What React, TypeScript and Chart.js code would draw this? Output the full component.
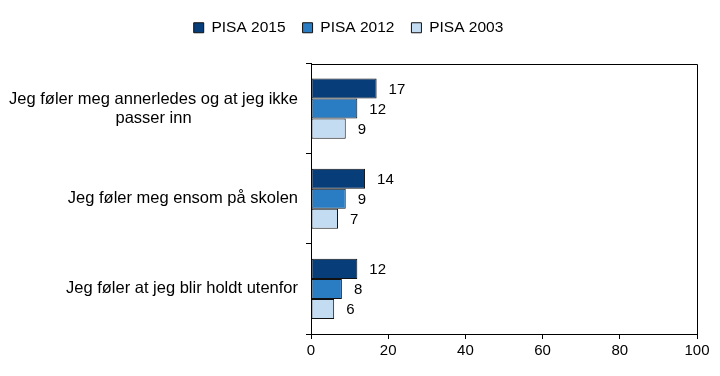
import React, { useEffect, useRef } from "react";
import { Chart, registerables } from "chart.js";

Chart.register(...registerables);

const categories: string[][] = [
  ["Jeg føler meg annerledes og at jeg ikke", "passer inn"],
  ["Jeg føler meg ensom på skolen"],
  ["Jeg føler at jeg blir holdt utenfor"],
];
const seriesNames = ["PISA 2015", "PISA 2012", "PISA 2003"];
const pisa2015 = [17, 14, 12];
const pisa2012 = [12, 9, 8];
const pisa2003 = [9, 7, 6];
const xTicks = [0, 20, 40, 60, 80, 100];

const colors = ["#073d78", "#2a7dc2", "#c4dcf1"];
const FONT = "'Liberation Sans', Arial, sans-serif";

const labelPlugin = {
  id: "valueLabels",
  afterDatasetsDraw(chart: any) {
    const ctx = chart.ctx;
    ctx.save();
    ctx.font = `15px ${FONT}`;
    ctx.fillStyle = "#000";
    ctx.textAlign = "left";
    ctx.textBaseline = "middle";
    chart.data.datasets.forEach((ds: any, i: number) => {
      const meta = chart.getDatasetMeta(i);
      meta.data.forEach((bar: any, j: number) => {
        ctx.fillText(String(ds.data[j]), bar.x + 12, bar.y + 1);
      });
    });
    ctx.restore();
  },
};

const catLabelPlugin = {
  id: "catLabels",
  afterDraw(chart: any) {
    const ctx = chart.ctx;
    const y = chart.scales.y;
    const right = chart.chartArea.left - 13;
    const lineH = 19;
    ctx.save();
    ctx.font = `16.5px ${FONT}`;
    ctx.fillStyle = "#000";
    ctx.textAlign = "center";
    ctx.textBaseline = "middle";
    categories.forEach((lines, i) => {
      const w = Math.max(...lines.map((l) => ctx.measureText(l).width));
      const cx = right - w / 2;
      const cy = y.getPixelForValue(i);
      const start = cy - ((lines.length - 1) * lineH) / 2;
      lines.forEach((l, k) => ctx.fillText(l, cx, start + k * lineH));
    });
    ctx.restore();
  },
};

const boxPlugin = {
  id: "boxBorder",
  afterInit(chart: any) {
    const lg = chart.legend;
    if (lg && !lg.__patched) {
      const orig = lg.fit;
      lg.fit = function () {
        orig.call(this);
        this.height += 18;
      };
      lg.__patched = true;
    }
  },
  afterDraw(chart: any) {
    const { ctx, chartArea } = chart;
    ctx.save();
    ctx.strokeStyle = "#000";
    ctx.lineWidth = 1;
    ctx.beginPath();
    ctx.moveTo(Math.round(chartArea.left) + 0.5, Math.round(chartArea.top) + 0.5);
    ctx.lineTo(Math.round(chartArea.right) + 0.5, Math.round(chartArea.top) + 0.5);
    ctx.lineTo(Math.round(chartArea.right) + 0.5, Math.round(chartArea.bottom) + 0.5);
    ctx.stroke();
    ctx.restore();
  },
};

export default function App() {
  const ref = useRef<HTMLCanvasElement>(null);
  useEffect(() => {
    if (!ref.current) return;
    const data = [pisa2015, pisa2012, pisa2003];
    const chart = new Chart(ref.current, {
      type: "bar",
      data: {
        labels: categories.map((c) => c.join(" ")),
        datasets: seriesNames.map((name, i) => ({
          label: name,
          data: data[i],
          backgroundColor: colors[i],
          borderColor: "#111",
          borderWidth: 1,
          borderSkipped: false,
          categoryPercentage: 0.667,
          barPercentage: 1,
        })),
      },
      options: {
        indexAxis: "y",
        animation: false,
        responsive: true,
        maintainAspectRatio: false,
        layout: { padding: { top: 3, right: 23, bottom: 0, left: 0 } },
        plugins: {
          tooltip: { enabled: false },
          legend: {
            position: "top",
            labels: {
              boxWidth: 10,
              boxHeight: 10,
              padding: 17,
              color: "#000",
              font: { family: FONT, size: 15.5 },
            },
          },
        },
        scales: {
          x: {
            min: 0,
            max: 100,
            afterBuildTicks: (scale: any) => {
              scale.ticks = xTicks.map((v) => ({ value: v }));
            },
            afterFit: (scale: any) => {
              scale.height = 42;
            },
            grid: {
              drawOnChartArea: false,
              drawTicks: true,
              tickLength: 5,
              color: "#000",
            },
            border: { color: "#000", width: 1 },
            ticks: {
              color: "#000",
              font: { family: FONT, size: 15 },
              padding: 3,
            },
          },
          y: {
            offset: true,
            afterFit: (scale: any) => {
              scale.width = 311;
            },
            grid: {
              offset: true,
              drawOnChartArea: false,
              drawTicks: true,
              tickLength: 5,
              color: "#000",
            },
            border: { color: "#000", width: 1 },
            ticks: { display: false },
          },
        },
      },
      plugins: [labelPlugin, catLabelPlugin, boxPlugin],
    });
    return () => chart.destroy();
  }, []);
  return (
    <div style={{ position: "absolute", left: 0, top: 0, width: 720, height: 376 }}>
      <canvas ref={ref} />
    </div>
  );
}
